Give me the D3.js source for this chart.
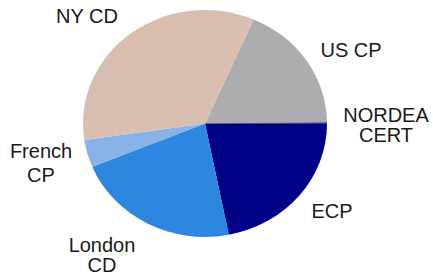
<!DOCTYPE html>
<html>
<head>
<meta charset="utf-8">
<script src="https://cdn.jsdelivr.net/npm/d3@7"></script>
<style>
  html, body { margin: 0; padding: 0; background: #fff; }
  svg { display: block; }
  text { font-family: "Liberation Sans", Arial, sans-serif; font-size: 20px; fill: #1a1a1a; }
</style>
</head>
<body>
<script>
// slice order clockwise, starting from the NY CD / US CP boundary
const categories = ["US CP", "NORDEA CERT", "ECP", "London CD", "French CP", "NY CD"];
const shares = [18.3, 0.15, 21.9, 21.9, 3.9, 33.85];
const colors = ["#adadaf", "#45455a", "#000085", "#2d86e0", "#88b3e6", "#d9bfb2"];

// label lines for each category
const labelLines = [["US CP"], ["NORDEA", "CERT"], ["ECP"], ["London", "CD"], ["French", "CP"], ["NY CD"]];

const width = 433, height = 277;
const cx = 205, cy = 123.5;
const rx = 122, ry = 113.5;
const startDeg = 23.5;

// where each label block sits (centre x, first baseline y)
const labelAnchors = [[351, 57.3], [386, 121.7], [332, 218.3], [102, 251.7], [41, 157.7], [87, 22.7]];
const lineGap = [0, 20, 0, 20, 24, 0];

const svg = d3.select('body')
    .append('svg')
    .attr('width', width)
    .attr('height', height);

const pie = d3.pie()
    .sort(null)
    .value(d => d)
    .startAngle(startDeg * Math.PI / 180)
    .endAngle(startDeg * Math.PI / 180 + 2 * Math.PI);

const arc = d3.arc()
    .innerRadius(0)
    .outerRadius(rx);

// the source pie is slightly squashed vertically
const pieGroup = svg.append('g')
    .attr('transform', `translate(${cx},${cy}) scale(1,${ry / rx})`);

pieGroup.selectAll('path')
    .data(pie(shares))
    .enter()
    .append('path')
    .attr('d', arc)
    .attr('fill', (d, i) => colors[i]);

// labels
const labels = svg.selectAll('.label')
    .data(categories)
    .enter()
    .append('text')
    .classed('label', true)
    .attr('text-anchor', 'middle')
    .attr('x', (d, i) => labelAnchors[i][0])
    .attr('y', (d, i) => labelAnchors[i][1]);

labels.each(function (d, i) {
    const t = d3.select(this);
    labelLines[i].forEach((line, j) => {
        t.append('tspan')
            .attr('x', labelAnchors[i][0])
            .attr('y', labelAnchors[i][1] + j * lineGap[i])
            .text(line);
    });
});
</script>
</body>
</html>
